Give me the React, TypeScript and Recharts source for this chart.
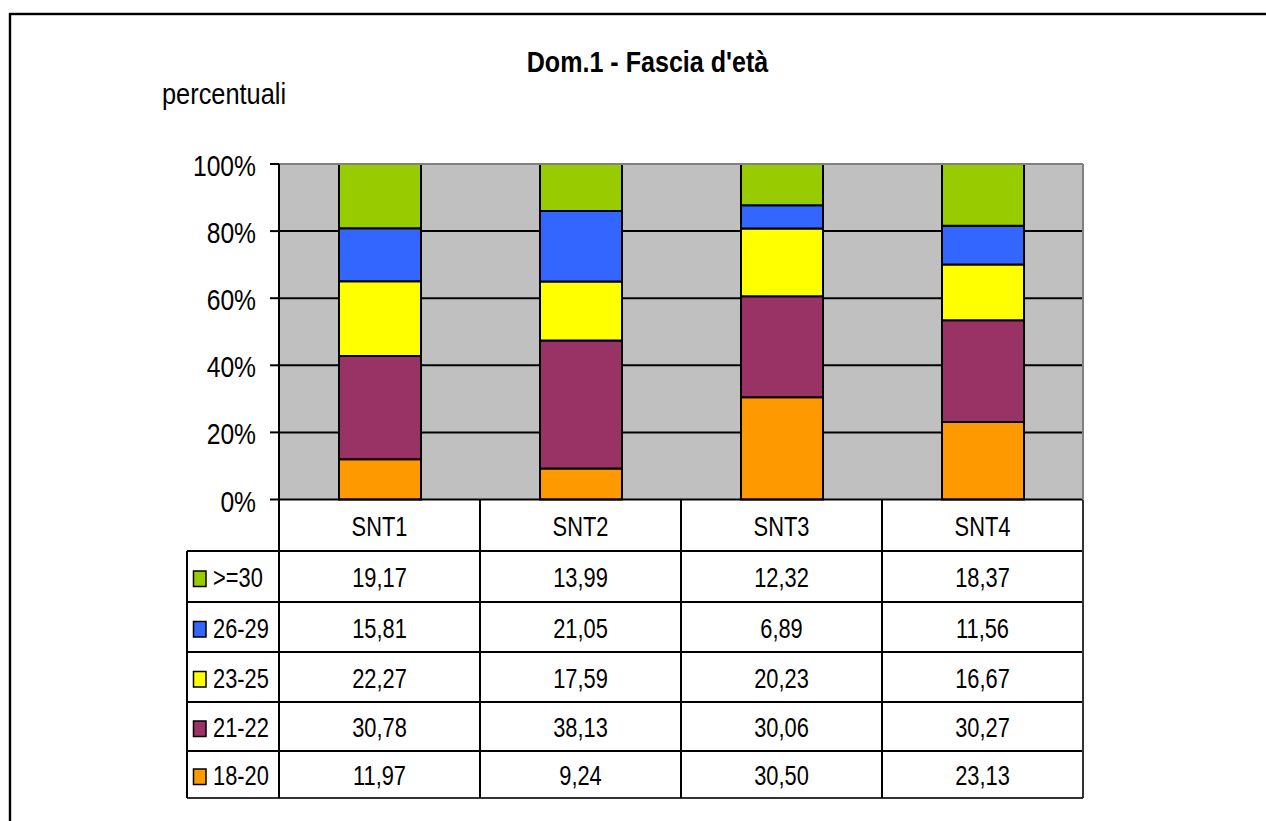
import React from 'react';
import { BarChart, Bar, XAxis, YAxis, CartesianGrid, ReferenceLine } from 'recharts';

const categories = ['SNT1', 'SNT2', 'SNT3', 'SNT4'];
const age18_20 = [11.97, 9.24, 30.5, 23.13];
const age21_22 = [30.78, 38.13, 30.06, 30.27];
const age23_25 = [22.27, 17.59, 20.23, 16.67];
const age26_29 = [15.81, 21.05, 6.89, 11.56];
const age30 = [19.17, 13.99, 12.32, 18.37];
const yTicks = [0, 0.2, 0.4, 0.6, 0.8, 1];

const title = "Dom.1 - Fascia d'età";
const yTitle = 'percentuali';

const series = [
  { key: 's1', name: '18-20', values: age18_20, color: '#FF9900' },
  { key: 's2', name: '21-22', values: age21_22, color: '#993366' },
  { key: 's3', name: '23-25', values: age23_25, color: '#FFFF00' },
  { key: 's4', name: '26-29', values: age26_29, color: '#3366FF' },
  { key: 's5', name: '>=30', values: age30, color: '#99CC00' },
];

const data = categories.map((cat, i) => {
  const row: any = { cat };
  series.forEach((s) => {
    row[s.key] = s.values[i];
  });
  return row;
});

const W = 1266;
const H = 821;
const PLOT_LEFT = 279;
const PLOT_RIGHT = 1083;
const PLOT_TOP = 164;
const PLOT_BOTTOM = 499.5;
const Y_AXIS_W = 80;
const X_AXIS_H = 20;
const FONT = "'Liberation Sans', Arial, sans-serif";

const TABLE_LEFT = 187;
const HEADER_TOP = 500;
const ROW_LINES = [551, 602, 652, 702, 751, 798];

const fmtPct = (v: number) => `${Math.round(v * 100)}%`;
const fmtNum = (v: number) => v.toFixed(2).replace('.', ',');

const YTick = (props: any) => {
  const { x, y, payload } = props;
  return (
    <text
      transform={`translate(${x},${y + 12}) scale(0.85,1)`}
      textAnchor="end"
      fontFamily={FONT}
      fontSize={29}
      fill="#000"
    >
      {fmtPct(payload.value)}
    </text>
  );
};

const Overlay = () => {
  const bandW = (PLOT_RIGHT - PLOT_LEFT) / categories.length;
  const colLines = categories.map((_, i) => PLOT_LEFT + i * bandW).concat([PLOT_RIGHT]);
  const rows = [...series].reverse();
  const tableText = (x: number, y: number, s: string, anchor: string = 'middle') => (
    <text
      transform={`translate(${x},${y}) scale(0.78,1)`}
      textAnchor={anchor as any}
      fontFamily={FONT}
      fontSize={28}
      fill="#000"
    >
      {s}
    </text>
  );
  return (
    <svg width={W} height={H} style={{ position: 'absolute', left: 0, top: 0 }}>
      <rect x={0} y={0} width={W} height={H} fill="#fff" />
      <rect x={10} y={14} width={1400} height={1000} fill="none" stroke="#000" strokeWidth={2.4} />
      <text
        transform={`translate(647.5,72) scale(0.865,1)`}
        textAnchor="middle"
        fontFamily={FONT}
        fontWeight="bold"
        fontSize={29}
        fill="#000"
      >
        {title}
      </text>
      <text
        transform={`translate(162,104) scale(0.875,1)`}
        fontFamily={FONT}
        fontSize={29}
        fill="#000"
      >
        {yTitle}
      </text>
      {/* header labels */}
      {categories.map((c, i) =>
        <g key={c}>{tableText(PLOT_LEFT + (i + 0.5) * bandW, (HEADER_TOP + ROW_LINES[0]) / 2 + 10.5, c)}</g>
      )}
      {/* rows */}
      {rows.map((s, r) => {
        const top = ROW_LINES[r];
        const bottom = ROW_LINES[r + 1];
        const base = (top + bottom) / 2 + 10.5;
        return (
          <g key={s.key}>
            <rect x={193.5} y={base - 16} width={12.5} height={15.5} fill={s.color} stroke="#000" strokeWidth={1.5} />
            {tableText(213, base, s.name, 'start')}
            {s.values.map((v, i) => (
              <g key={i}>{tableText(PLOT_LEFT + (i + 0.5) * bandW, base, fmtNum(v))}</g>
            ))}
          </g>
        );
      })}
      {/* table grid */}
      {ROW_LINES.map((y, i) => (
        <line key={`h${i}`} x1={TABLE_LEFT} x2={PLOT_RIGHT} y1={y} y2={y} stroke={i === ROW_LINES.length - 1 ? '#333' : '#000'} strokeWidth={2} />
      ))}
      <line x1={TABLE_LEFT} x2={TABLE_LEFT} y1={ROW_LINES[0]} y2={ROW_LINES[ROW_LINES.length - 1]} stroke="#000" strokeWidth={2} />
      {colLines.map((x, i) => (
        <line
          key={`v${i}`}
          x1={x}
          x2={x}
          y1={HEADER_TOP}
          y2={ROW_LINES[ROW_LINES.length - 1]}
          stroke={i === colLines.length - 1 ? '#333' : '#000'}
          strokeWidth={2}
        />
      ))}
    </svg>
  );
};

export default function App() {
  return (
    <div style={{ position: 'absolute', left: 0, top: 0, width: W, height: H, overflow: 'hidden', background: '#fff' }}>
      <Overlay />
      <div style={{ position: 'absolute', left: 0, top: 0 }}>
        <BarChart
          width={W}
          height={H}
          data={data}
          stackOffset="expand"
          barSize={82}
          margin={{ top: PLOT_TOP, right: W - PLOT_RIGHT, bottom: H - PLOT_BOTTOM - X_AXIS_H, left: PLOT_LEFT - Y_AXIS_W }}
        >
          <CartesianGrid
            vertical={false}
            horizontalValues={[0.2, 0.4, 0.6, 0.8]}
            stroke="#000"
            strokeWidth={2}
            fill="#C0C0C0"
            fillOpacity={1}
          />
          <XAxis
            dataKey="cat"
            height={X_AXIS_H}
            tick={false}
            tickLine={false}
            axisLine={{ stroke: '#000', strokeWidth: 2 }}
          />
          <YAxis
            type="number"
            domain={[0, 1]}
            ticks={yTicks}
            width={Y_AXIS_W}
            tickSize={9}
            tickMargin={14}
            interval={0}
            tick={<YTick />}
            tickLine={{ stroke: '#000', strokeWidth: 2 }}
            axisLine={{ stroke: '#000', strokeWidth: 2 }}
          />
          <ReferenceLine y={1} stroke="#808080" strokeWidth={2} />
          <ReferenceLine x="SNT4" stroke="none" />
          {series.map((s) => (
            <Bar
              key={s.key}
              dataKey={s.key}
              name={s.name}
              stackId="a"
              fill={s.color}
              stroke="#000"
              strokeWidth={2}
              isAnimationActive={false}
            />
          ))}
        </BarChart>
      </div>
      <svg width={W} height={H} style={{ position: 'absolute', left: 0, top: 0, pointerEvents: 'none' }}>
        <line x1={PLOT_RIGHT} x2={PLOT_RIGHT} y1={PLOT_TOP} y2={PLOT_BOTTOM} stroke="#808080" strokeWidth={2} />
      </svg>
    </div>
  );
}
